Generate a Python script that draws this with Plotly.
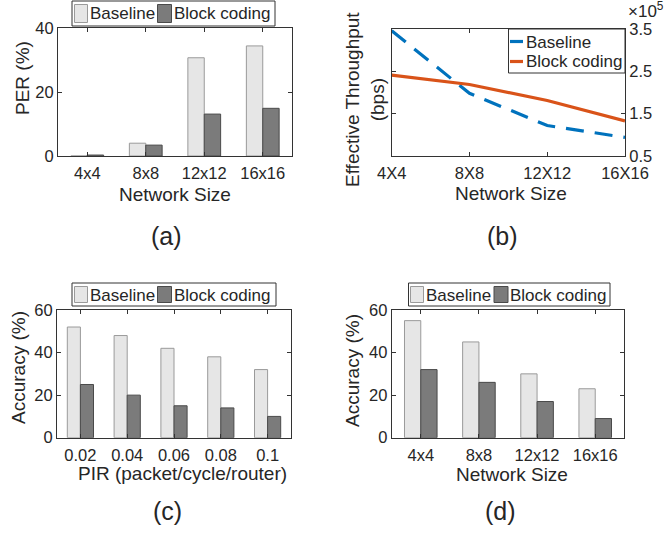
import plotly.graph_objects as go

# ---------------- data ----------------
net_sizes = ["4x4", "8x8", "12x12", "16x16"]
per_baseline = [0.0, 4.0, 30.7, 34.4]
per_block = [0.3, 3.4, 13.1, 14.9]

tp_sizes = ["4X4", "8X8", "12X12", "16X16"]
tp_baseline = [3.46, 1.98, 1.22, 0.94]   # x 10^5 bps
tp_block = [2.41, 2.19, 1.81, 1.33]      # x 10^5 bps

pir = ["0.02", "0.04", "0.06", "0.08", "0.1"]
acc_pir_baseline = [52, 48, 42, 38, 32]
acc_pir_block = [25, 20, 15, 14, 10]

acc_net_baseline = [55, 45, 30, 23]
acc_net_block = [32, 26, 17, 9]

series_names = ["Baseline", "Block coding"]
captions = ["(a)", "(b)", "(c)", "(d)"]

# ---------------- style ----------------
W, H = 665, 533
FONT = "Liberation Sans, Arial, sans-serif"
TXT = "#262626"
AX = "#333333"
BASE_FILL, BASE_EDGE = "#e6e6e6", "#9a9a9a"
BLK_FILL, BLK_EDGE = "#7b7b7b", "#4a4a4a"
BLUE, ORANGE = "#0072BD", "#D95319"


def px(x):
    return x / W


def py(y):
    return 1 - y / H


fig = go.Figure()


def bars(cats, base, blk, xa, ya):
    fig.add_trace(go.Bar(x=cats, y=base, name=series_names[0], xaxis=xa, yaxis=ya,
                         marker=dict(color=BASE_FILL, line=dict(color=BASE_EDGE, width=1)),
                         showlegend=False))
    fig.add_trace(go.Bar(x=cats, y=blk, name=series_names[1], xaxis=xa, yaxis=ya,
                         marker=dict(color=BLK_FILL, line=dict(color=BLK_EDGE, width=1)),
                         showlegend=False))


bars(net_sizes, per_baseline, per_block, "x", "y")
bars(pir, acc_pir_baseline, acc_pir_block, "x3", "y3")
bars(net_sizes, acc_net_baseline, acc_net_block, "x4", "y4")

fig.add_trace(go.Scatter(x=tp_sizes, y=tp_baseline, name=series_names[0], mode="lines",
                         xaxis="x2", yaxis="y2", showlegend=False,
                         line=dict(color=BLUE, width=3.2, dash="18px,11px")))
fig.add_trace(go.Scatter(x=tp_sizes, y=tp_block, name=series_names[1], mode="lines",
                         xaxis="x2", yaxis="y2", showlegend=False,
                         line=dict(color=ORANGE, width=3.2)))

tickfont = dict(family=FONT, size=16.5, color=TXT)
axcommon = dict(showline=True, linecolor=AX, linewidth=1, mirror="ticks",
                ticks="inside", ticklen=4, tickcolor=AX, showgrid=False,
                zeroline=False, tickfont=tickfont, automargin=False)
xcommon = dict(ticklabelstandoff=2, **axcommon)

doms = {
    "a": ([58, 292], [28, 156]),
    "b": ([391.7, 625], [29, 156]),
    "c": ([57, 291], [310, 437.7]),
    "d": ([391.7, 624.3], [310, 437.7]),
}


def dom(k):
    (x0, x1), (y0, y1) = doms[k]
    return [px(x0), px(x1)], [py(y1), py(y0)]


xa, ya = dom("a")
xb, yb = dom("b")
xc, yc = dom("c")
xd, yd = dom("d")

fig.update_layout(
    width=W, height=H, margin=dict(l=0, r=0, t=0, b=0, autoexpand=False),
    paper_bgcolor="white", plot_bgcolor="white",
    font=dict(family=FONT, color=TXT),
    showlegend=False,
    barmode="group", bargap=0.44, bargroupgap=0,
    xaxis=dict(domain=xa, anchor="y", **xcommon),
    yaxis=dict(domain=ya, anchor="x", range=[0, 40], tickvals=[0, 20, 40], **axcommon),
    xaxis2=dict(domain=xb, anchor="y2", range=[0, 3], **xcommon),
    yaxis2=dict(domain=yb, anchor="x2", side="right", range=[0.5, 3.5],
                tickvals=[0.5, 1.5, 2.5, 3.5], ticktext=["0.5", "1.5", "2.5", "3.5"], **axcommon),
    xaxis3=dict(domain=xc, anchor="y3", **xcommon),
    yaxis3=dict(domain=yc, anchor="x3", range=[0, 60], tickvals=[0, 20, 40, 60], **axcommon),
    xaxis4=dict(domain=xd, anchor="y4", **xcommon),
    yaxis4=dict(domain=yd, anchor="x4", range=[0, 60], tickvals=[0, 20, 40, 60], **axcommon),
)

ann = []
shapes = []
tfont = dict(family=FONT, size=19, color=TXT)
cfont = dict(family=FONT, size=25, color=TXT)
lfont = dict(family=FONT, size=17, color=TXT)


def A(text, x, y, font, angle=0, xanchor="center"):
    ann.append(dict(text=text, x=px(x), y=py(y), xref="paper", yref="paper",
                    showarrow=False, font=font, textangle=angle,
                    xanchor=xanchor, yanchor="middle"))


def R(x0, y0, x1, y1, fill, edge):
    shapes.append(dict(type="rect", xref="paper", yref="paper", layer="above",
                       x0=px(x0), x1=px(x1), y0=py(y1), y1=py(y0),
                       fillcolor=fill, line=dict(color=edge, width=1)))


def L(x0, x1, y, color):
    shapes.append(dict(type="line", xref="paper", yref="paper", layer="above",
                       x0=px(x0), x1=px(x1), y0=py(y), y1=py(y),
                       line=dict(color=color, width=3.2)))


# bar legends (box, swatches, labels)
def bar_legend(bx0, bx1, by0, by1, s1, t1, s2, t2):
    R(bx0, by0, bx1, by1, "white", AX)
    ym = (by0 + by1) / 2
    R(s1, by0 + 3.5, s1 + 13, by1 - 3.5, BASE_FILL, BASE_EDGE)
    R(s2, by0 + 3.5, s2 + 14, by1 - 3.5, BLK_FILL, BLK_EDGE)
    A(series_names[0], t1, ym + 0.5, lfont, xanchor="left")
    A(series_names[1], t2, ym + 0.5, lfont, xanchor="left")


bar_legend(72, 275, 1, 26, 74.5, 87.5, 157.5, 171.5)
bar_legend(72, 276, 283, 306, 74.5, 87.5, 157.5, 171.5)
bar_legend(408.5, 610, 283, 306, 410.5, 424, 494, 508)

# line legend for (b)
R(508.5, 29, 625, 73, "white", AX)
L(510, 523, 41.5, BLUE)
L(510, 523, 61.5, ORANGE)
A(series_names[0], 523.5, 42, lfont, xanchor="left")
A(series_names[1], 523.5, 62, lfont, xanchor="left")

# axis titles
A("Network Size", 175, 194, tfont)
A("PER (%)", 22, 78, tfont, -90)
A("Network Size", 511, 193, tfont)
A("Effective Throughput<br>(bps)", 365, 100, tfont, -90)
A("×10<sup>5</sup>", 626, 10, dict(family=FONT, size=17, color=TXT), xanchor="left")
A("PIR (packet/cycle/router)", 182, 473, tfont)
A("Accuracy (%)", 18, 368, tfont, -90)
A("Network Size", 512, 474, tfont)
A("Accuracy (%)", 352, 370, tfont, -90)
# captions
A(captions[0], 166, 236, cfont)
A(captions[1], 502, 236, cfont)
A(captions[2], 167, 511, cfont)
A(captions[3], 501, 511, cfont)

fig.update_layout(annotations=ann, shapes=shapes)

fig.write_html("out.html")
